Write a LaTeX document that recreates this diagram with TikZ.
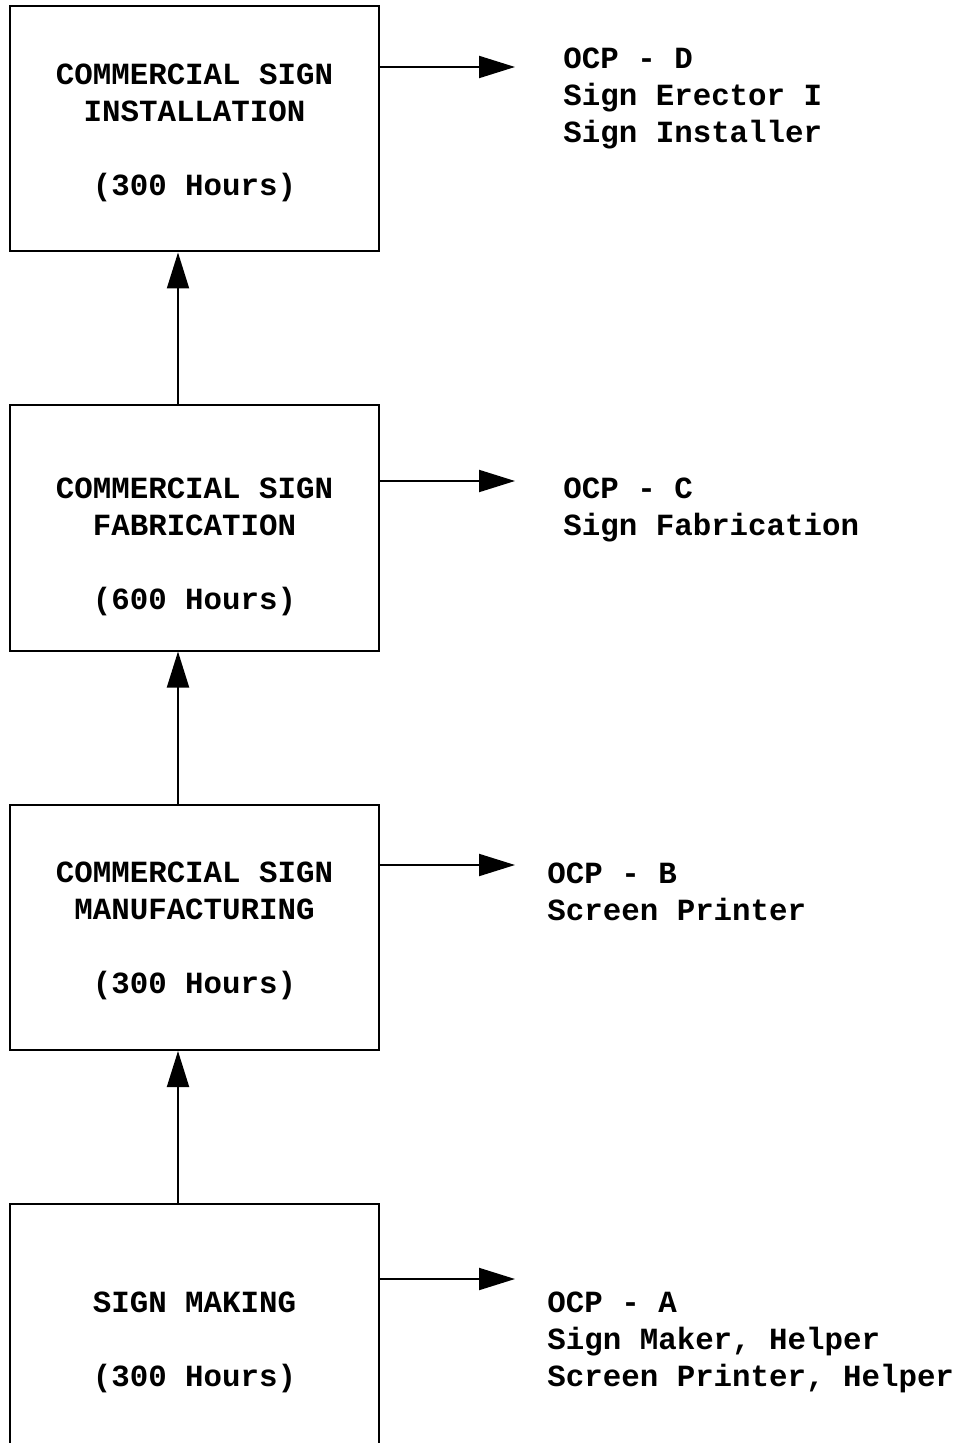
\documentclass[tikz,border=0pt]{standalone}
\usepackage{fontspec}
\newfontfamily\signfont{Liberation Mono}
\usetikzlibrary{arrows.meta}

\begin{document}
\begin{tikzpicture}[x=0.5pt,y=-0.5pt,
    every node/.style={font=\signfont\bfseries\fontsize{15.4}{18.5}\selectfont,inner sep=0pt},
    box/.style={draw=black,line width=1pt,minimum width=184.5pt,minimum height=122.5pt},
    title/.style={align=center},
    jobs/.style={anchor=west,align=left},
    arr/.style={line width=1pt,-{Triangle[length=18pt,width=11pt]}}]
    \useasboundingbox (0,0) rectangle (956,1443);

    \node (install)[box] at (194.5,129) {};
    \node (fab)[box] at (194.5,528) {};
    \node (manuf)[box] at (194.5,927.5) {};
    \node (making)[box] at (194.5,1326.5) {};

    \node (installtxt)[title] at (194.5,132.5) {COMMERCIAL SIGN\\INSTALLATION\\[18.5pt](300 Hours)};
    \node (fabtxt)[title] at (194.5,546.5) {COMMERCIAL SIGN\\FABRICATION\\[18.5pt](600 Hours)};
    \node (manuftxt)[title] at (194.5,931) {COMMERCIAL SIGN\\MANUFACTURING\\[18.5pt](300 Hours)};
    \node (makingtxt)[title] at (194.5,1342) {SIGN MAKING\\[18.5pt](300 Hours)};

    \node (ocpd)[jobs] at (563,98.5) {OCP - D\\Sign Erector I\\Sign Installer};
    \node (ocpc)[jobs] at (563,509.5) {OCP - C\\Sign Fabrication};
    \node (ocpb)[jobs] at (547,892) {OCP - B\\Screen Printer};
    \node (ocpa)[jobs] at (547,1342) {OCP - A\\Sign Maker, Helper\\Screen Printer, Helper};

    \coordinate (tod) at (515,67);
    \coordinate (toc) at (515,481);
    \coordinate (tob) at (515,865);
    \coordinate (toa) at (515,1279);

    \draw [arr] (install.east |- tod) -- (tod);
    \draw [arr] (fab.east |- toc) -- (toc);
    \draw [arr] (manuf.east |- tob) -- (tob);
    \draw [arr] (making.east |- toa) -- (toa);

    \draw [arr] ([xshift=-8.25pt]making.north) -- ([xshift=-8.25pt]manuf.south);
    \draw [arr] ([xshift=-8.25pt]manuf.north) -- ([xshift=-8.25pt]fab.south);
    \draw [arr] ([xshift=-8.25pt]fab.north) -- ([xshift=-8.25pt]install.south);
\end{tikzpicture}
\end{document}
